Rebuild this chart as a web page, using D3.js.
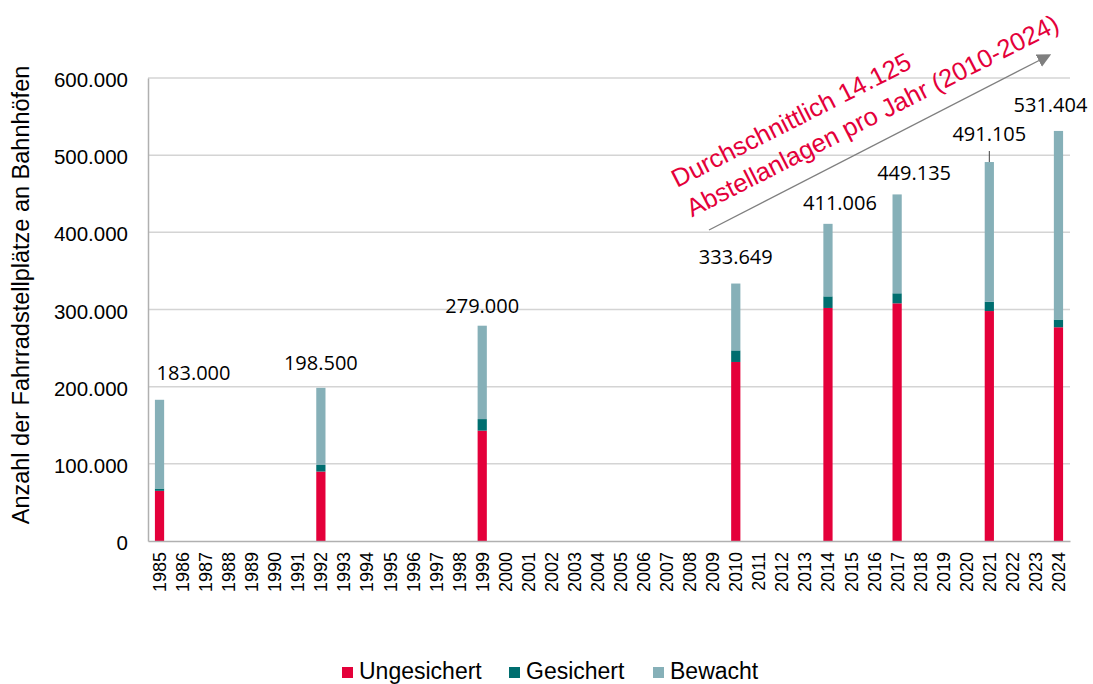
<!DOCTYPE html>
<html>
<head>
<meta charset="utf-8">
<script src="https://cdn.jsdelivr.net/npm/d3@7"></script>
<style>
  html, body { margin: 0; padding: 0; background: #ffffff; }
  svg { display: block; }
</style>
</head>
<body>
<svg id="chart" width="1093" height="684"></svg>
<script>
// ---------- data ----------
const years = ["1985","1986","1987","1988","1989","1990","1991","1992","1993","1994",
  "1995","1996","1997","1998","1999","2000","2001","2002","2003","2004",
  "2005","2006","2007","2008","2009","2010","2011","2012","2013","2014",
  "2015","2016","2017","2018","2019","2020","2021","2022","2023","2024"];
const dataYears   = ["1985","1992","1999","2010","2014","2017","2021","2024"];
const ungesichert = [65000, 90000, 143000, 232000, 302000, 308000, 298000, 277000];
const gesichert   = [3000, 8500, 15000, 15000, 15000, 13000, 12000, 10000];
const bewacht     = [115000, 100000, 121000, 86649, 94006, 128135, 181105, 244404];
const seriesNames = ["Ungesichert", "Gesichert", "Bewacht"];
const yTicks      = [0, 100000, 200000, 300000, 400000, 500000, 600000];
const yTitle      = "Anzahl der Fahrradstellplätze an Bahnhöfen";
const noteLines   = ["Durchschnittlich 14.125", "Abstellanlagen pro Jahr (2010-2024)"];

// ---------- layout / style ----------
const colors = ["#E4003A", "#006E6F", "#86B0B8"];
const labelShift = [[34, -20], [0, -18], [0, -13], [0, -20], [12, -14], [17, -14], [0, -21], [-8, -19]];
const plot = { left: 148, right: 1070, top: 78, bottom: 541 };

const de = d3.formatLocale({ decimal: ",", thousands: ".", grouping: [3], currency: ["", " €"] });
const fmt = de.format(",d");

const svg = d3.select("#chart");

const x = d3.scaleBand().domain(years).range([plot.left, plot.right]).paddingInner(0.6).paddingOuter(0.3);
const y = d3.scaleLinear().domain([0, 600000]).range([plot.bottom, plot.top]);

// gridlines
svg.append("g")
  .selectAll("line").data(yTicks.filter(d => d > 0)).join("line")
  .attr("x1", plot.left).attr("x2", plot.right)
  .attr("y1", d => y(d)).attr("y2", d => y(d))
  .attr("stroke", "#d4d4d4").attr("stroke-width", 1.5);

// y axis labels
const yAxis = d3.axisLeft(y).tickValues(yTicks).tickFormat(d => d === 0 ? "0" : fmt(d)).tickSize(0).tickPadding(20);
const gy = svg.append("g").attr("transform", `translate(${plot.left},0)`).call(yAxis);
gy.select(".domain").attr("stroke", "#b0b0b0").attr("stroke-width", 1.5);
gy.selectAll("text").attr("font-family", "'Liberation Sans', Arial, sans-serif").attr("font-size", 20.5)
  .attr("fill", "#000").attr("dy", "0.42em");

// stacked data
const rows = dataYears.map((yr, i) => ({ year: yr, Ungesichert: ungesichert[i], Gesichert: gesichert[i], Bewacht: bewacht[i] }));
const stack = d3.stack().keys(seriesNames)(rows);

svg.append("g").selectAll("g").data(stack).join("g")
  .attr("fill", (d, i) => colors[i])
  .selectAll("rect").data(d => d).join("rect")
  .attr("x", d => x(d.data.year))
  .attr("width", x.bandwidth())
  .attr("y", d => y(d[1]))
  .attr("height", d => y(d[0]) - y(d[1]));

// x axis
const xAxis = d3.axisBottom(x).tickSize(0).tickPadding(0);
const gx = svg.append("g").attr("transform", `translate(0,${plot.bottom})`).call(xAxis);
gx.select(".domain").attr("stroke", "#b0b0b0").attr("stroke-width", 1.5);
gx.selectAll("text")
  .attr("font-family", "'Liberation Sans', Arial, sans-serif").attr("font-size", 18).attr("fill", "#000")
  .attr("text-anchor", "end")
  .attr("transform", "translate(0,11) rotate(-90)")
  .attr("x", 0).attr("y", 0).attr("dy", "0.36em");

// total labels
const totals = stack[stack.length - 1].map(d => d[1]);
const labels = svg.append("g");
dataYears.forEach((yr, i) => {
  const cx = x(yr) + x.bandwidth() / 2;
  const top = y(totals[i]);
  labels.append("text")
    .attr("x", cx + labelShift[i][0]).attr("y", top + labelShift[i][1])
    .attr("text-anchor", "middle")
    .attr("font-family", "'Open Sans', 'Noto Sans', sans-serif").attr("font-size", 20)
    .attr("fill", "#000")
    .text(fmt(totals[i]));
  if (yr === "2021") {
    labels.append("line").attr("x1", cx).attr("x2", cx)
      .attr("y1", top + labelShift[i][1] + 10).attr("y2", top)
      .attr("stroke", "#404040").attr("stroke-width", 1);
  }
});

// annotation arrow
const defs = svg.append("defs");
defs.append("marker").attr("id", "arrow").attr("viewBox", "0 0 10 10")
  .attr("refX", 1).attr("refY", 5)
  .attr("markerUnits", "userSpaceOnUse")
  .attr("markerWidth", 14).attr("markerHeight", 14)
  .attr("orient", "auto")
  .append("path").attr("d", "M0,0 L10,5 L0,10 Z").attr("fill", "#7f7f7f");
svg.append("line")
  .attr("x1", 709).attr("y1", 230).attr("x2", 1040).attr("y2", 60)
  .attr("stroke", "#7f7f7f").attr("stroke-width", 1.3)
  .attr("marker-end", "url(#arrow)");

const note = svg.append("g").attr("transform", "translate(677,188) rotate(-27)");
note.selectAll("text").data(noteLines).join("text")
  .attr("x", 0).attr("y", (d, i) => i * 33)
  .attr("font-family", "'Liberation Sans', Arial, sans-serif").attr("font-size", 25.5)
  .attr("fill", "#E4003A")
  .text(d => d);

// y title
svg.append("text")
  .attr("transform", `translate(29,295) rotate(-90)`)
  .attr("text-anchor", "middle")
  .attr("font-family", "'Liberation Sans', Arial, sans-serif").attr("font-size", 23.5)
  .attr("fill", "#000")
  .text(yTitle);

// legend
const legendX = [342, 509, 653];
const lg = svg.append("g");
seriesNames.forEach((name, i) => {
  lg.append("rect").attr("x", legendX[i]).attr("y", 667).attr("width", 11).attr("height", 11).attr("fill", colors[i]);
  lg.append("text").attr("x", legendX[i] + 17).attr("y", 679)
    .attr("font-family", "'Liberation Sans', Arial, sans-serif").attr("font-size", 23)
    .attr("fill", "#000").text(name);
});
</script>
</body>
</html>
